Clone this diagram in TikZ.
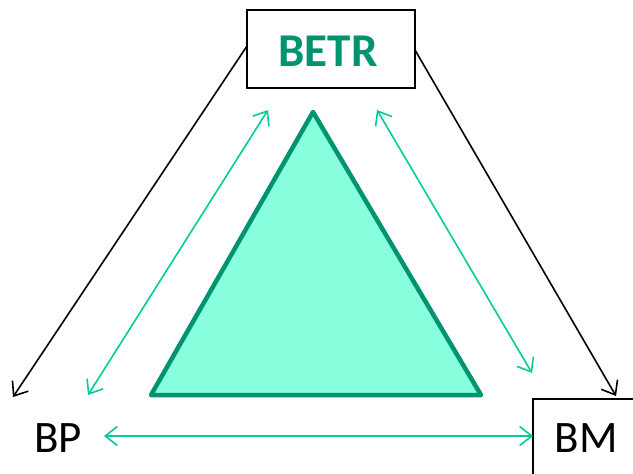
\documentclass[tikz,border=0pt]{standalone}
\usepackage{fontspec}
\setmainfont{Carlito}
\usetikzlibrary{arrows.meta}
\definecolor{dkgreen}{HTML}{00936F}
\definecolor{ltgreen}{HTML}{00CC99}
\definecolor{trifill}{HTML}{88FFDD}
\tikzset{
  blk/.style={draw=black, line width=1.6pt, -{Straight Barb[length=12pt,width=19pt,line width=1.6pt]}},
  grn/.style={draw=ltgreen, line width=1.6pt, {Straight Barb[length=12pt,width=19pt,line width=1.6pt]}-{Straight Barb[length=12pt,width=19pt,line width=1.6pt]}},
  lbl/.style={font=\fontsize{45}{48}\selectfont, inner sep=0pt},
  boxs/.style={draw=black, line width=1.8pt}
}
\begin{document}
\begin{tikzpicture}[x=1pt,y=-1pt]
\useasboundingbox (0,0) rectangle (633,474);
\clip (0,0) rectangle (633,474);
% BETR box
\node[boxs, minimum width=168pt, minimum height=78pt, inner sep=0pt] (betr) at (331,49) {};
\node[inner sep=0pt, font=\fontsize{47}{50}\selectfont\bfseries, text=dkgreen] (betrt) at (328,51) {BETR};
% BP
\node[lbl] (bp) at (58,438) {BP};
% BM
\draw[boxs] (533,399) rectangle (680,520);
\node[lbl] (bm) at (586,438) {BM};
% triangle
\coordinate (ta) at (313,112);
\coordinate (tl) at (151,395);
\coordinate (tr) at (481,395);
\draw[draw=dkgreen, fill=trifill, line width=4.5pt, line join=round] (ta) -- (tl) -- (tr) -- cycle;
% black arrows
\coordinate (bl0) at (247,46);
\coordinate (bl1) at (13,397);
\coordinate (br0) at (415,50);
\coordinate (br1) at (616,396);
\draw[blk] (bl0) -- (bl1);
\draw[blk] (br0) -- (br1);
% green arrows
\coordinate (g1a) at (268,110);
\coordinate (g1b) at (88,395);
\coordinate (g2a) at (377,110);
\coordinate (g2b) at (532,373);
\coordinate (g3a) at (104,436);
\coordinate (g3b) at (533,436);
\draw[grn] (g1a) -- (g1b);
\draw[grn] (g2a) -- (g2b);
\draw[grn] (g3a) -- (g3b);
\end{tikzpicture}
\end{document}
